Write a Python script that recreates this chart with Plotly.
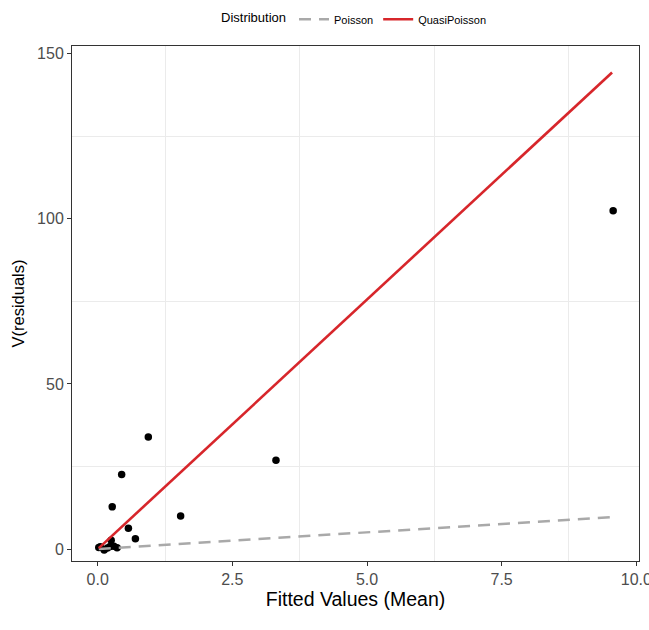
import plotly.graph_objects as go

# Observed fitted means and variance of residuals
fitted_mean = [0.02, 0.05, 0.12, 0.18, 0.23, 0.25, 0.30, 0.36, 0.27, 0.445, 0.57, 0.70, 0.94, 1.54, 3.31, 9.57]
resid_var = [0.5, 0.7, -0.3, 0.3, 0.8, 2.7, 0.9, 0.4, 12.8, 22.6, 6.3, 3.1, 33.9, 10.0, 26.9, 102.4]

# Variance functions: Poisson V = mu, QuasiPoisson V = phi * mu
poisson_x = [0.02, 9.55]
poisson_y = [0.02, 9.7]
quasi_x = [0.02, 9.55]
quasi_y = [0.3, 144.3]

x_ticks = [0, 2.5, 5, 7.5, 10]
x_labels = ["0.0", "2.5", "5.0", "7.5", "10.0"]
y_ticks = [0, 50, 100, 150]
x_minor = [1.25, 3.75, 6.25, 8.75]
y_minor = [25, 75, 125]

fig = go.Figure()
fig.add_trace(go.Scatter(
    x=fitted_mean, y=resid_var, mode="markers",
    marker=dict(color="black", size=7.5), showlegend=False,
))
fig.add_trace(go.Scatter(
    x=poisson_x, y=poisson_y, mode="lines", name="Poisson",
    line=dict(color="#A9A9A9", width=2.5, dash="12px,8px"),
))
fig.add_trace(go.Scatter(
    x=quasi_x, y=quasi_y, mode="lines", name="QuasiPoisson",
    line=dict(color="#D7262B", width=2.6),
))

axis_common = dict(
    showline=True, linecolor="#333333", linewidth=1, mirror=True,
    ticks="outside", ticklen=4, tickcolor="#333333",
    tickfont=dict(size=16, color="#4D4D4D"),
    showgrid=False, zeroline=False, ticklabeloverflow="allow",
)

fig.update_xaxes(
    **axis_common, range=[-0.477, 10.05],
    tickvals=x_ticks, ticktext=x_labels,
    minor=dict(tickvals=x_minor, showgrid=True, gridcolor="#EBEBEB", gridwidth=1, ticklen=0),
    title=dict(text="Fitted Values (Mean)", font=dict(size=19.5, color="black"), standoff=4),
)
fig.update_yaxes(
    **axis_common, range=[-3.6, 152.3],
    tickvals=y_ticks,
    minor=dict(tickvals=y_minor, showgrid=True, gridcolor="#EBEBEB", gridwidth=1, ticklen=0),
    title=dict(text="V(residuals)", font=dict(size=16.5, color="black"), standoff=8),
)

fig.update_layout(
    width=649, height=630,
    margin=dict(l=72, r=10, t=46, b=69, autoexpand=False),
    paper_bgcolor="white", plot_bgcolor="white",
    font=dict(family="Liberation Sans, Arial, sans-serif", color="black"),
    legend=dict(
        orientation="h", x=0.5, xanchor="center", y=1.08, yanchor="top",
        title=dict(text="Distribution", font=dict(size=13), side="left"),
        font=dict(size=11), itemwidth=30,
    ),
)

fig.write_html("out.html")
